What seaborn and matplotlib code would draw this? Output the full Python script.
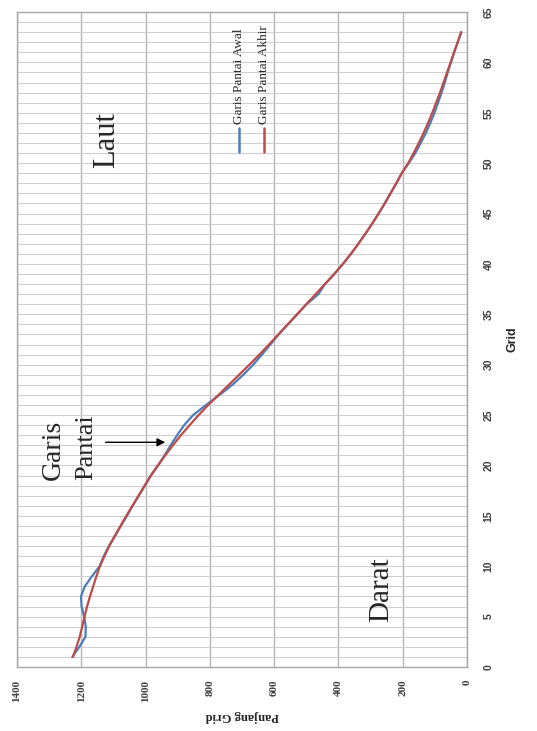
import numpy as np
import pandas as pd
import matplotlib
matplotlib.use("Agg")
import matplotlib.pyplot as plt
import seaborn as sns

# grid index along the coast
grid = list(range(1, 64))

# shoreline position (Panjang Grid) at each grid index
awal = [1228, 1206, 1187, 1186, 1191, 1199, 1201, 1189, 1167, 1143,
        1130, 1114, 1095, 1077, 1058, 1040, 1021, 1002, 983, 961,
        941, 922, 902, 880, 852, 812, 770, 730, 696, 665,
        638, 612, 586, 557, 528, 499, 462, 442, 413, 386,
        361, 338, 316, 295, 275, 256, 238, 220, 203, 181,
        161, 144, 128, 114, 101, 90, 79, 69, 60, 50,
        40, 29, 18]
akhir = [1226, 1215, 1205, 1197, 1190, 1182, 1173, 1163, 1153, 1142,
         1128, 1113, 1096, 1078, 1060, 1041, 1022, 1003, 984, 962,
         939, 915, 890, 863, 835, 805, 773, 741, 709, 677,
         646, 616, 587, 558, 529, 500, 471, 442, 413, 386,
         361, 338, 316, 295, 275, 256, 238, 220, 203, 183,
         166, 150, 135, 121, 108, 96, 84, 73, 62, 51,
         40, 29, 18]

series_names = ["Garis Pantai Awal", "Garis Pantai Akhir"]
colors = ["#4a7ebb", "#be4b48"]

x_ticks = list(range(0, 1401, 200))
y_ticks = list(range(0, 66, 5))

df = pd.concat([
    pd.DataFrame({"grid": grid, "panjang": awal, "seri": series_names[0]}),
    pd.DataFrame({"grid": grid, "panjang": akhir, "seri": series_names[1]}),
])

sns.set_style("white")
plt.rcParams["font.family"] = ["Liberation Serif", "DejaVu Serif"]

fig = plt.figure(figsize=(5.37, 7.31), dpi=100)
ax = fig.add_axes([17 / 537, 64 / 731, 450 / 537, 655 / 731])

# chart is drawn rotated: Panjang Grid runs right-to-left, Grid runs upward
sns.lineplot(data=df, x="panjang", y="grid", hue="seri", palette=colors,
             sort=False, estimator=None, linewidth=1.6, legend=False, ax=ax)
for ln in ax.get_lines():
    ln.set_solid_joinstyle("round")

ax.set_xlim(1400, 0)
ax.set_ylim(0, 65)
ax.set_xticks(x_ticks)
ax.set_yticks(y_ticks)
ax.set_yticks(range(0, 66), minor=True)
ax.grid(axis="x", color="#b5b5b5", linewidth=1.0)
ax.grid(axis="y", which="both", color="#cfcfcf", linewidth=0.8)
ax.set_axisbelow(True)
for s in ax.spines.values():
    s.set_color("#a8a8a8")
    s.set_linewidth(1.0)

ax.yaxis.tick_right()
ax.yaxis.set_label_position("right")
ax.tick_params(axis="both", which="both", length=0)
ax.tick_params(axis="x", pad=9)
ax.tick_params(axis="y", pad=12)
for lab in ax.get_xticklabels():
    lab.set_rotation(90)
    lab.set_fontsize(8)
    lab.set_fontweight("bold")
    lab.set_color("#404040")
for lab in ax.get_yticklabels():
    lab.set_rotation(90)
    lab.set_va("center")
    lab.set_fontsize(7.5)
    lab.set_fontweight("bold")
    lab.set_family(["Liberation Sans Narrow", "Liberation Sans"])
    lab.set_color("#404040")

ax.set_xlabel("Panjang Grid", rotation=180, fontsize=9, fontweight="bold",
              labelpad=6)
ax.set_ylabel("Grid", rotation=90, fontsize=9, fontweight="bold",
              family=["Liberation Sans Narrow", "Liberation Sans"], labelpad=9)

# legend, rotated like the rest of the chart
for xa, name, c in zip([0.493, 0.549], series_names, colors):
    ax.plot([xa, xa], [0.786, 0.823], color=c, linewidth=1.8,
            transform=ax.transAxes)
    ax.text(xa, 0.829, name, rotation=90, ha="center", va="bottom",
            fontsize=9.5, transform=ax.transAxes)

# labels on the chart
ax.text(0.2, 0.805, "Laut", rotation=90, ha="center", va="center",
        fontsize=22, transform=ax.transAxes)
ax.text(0.809, 0.118, "Darat", rotation=90, ha="center", va="center",
        fontsize=21, transform=ax.transAxes)
ax.text(0.08, 0.285, "Garis", rotation=90, ha="center", va="bottom",
        fontsize=20, transform=ax.transAxes)
ax.text(0.153, 0.285, "Pantai", rotation=90, ha="center", va="bottom",
        fontsize=19, transform=ax.transAxes)
ax.annotate("", xy=(930, 22.3), xytext=(1133, 22.3),
            arrowprops=dict(arrowstyle="-|>", color="black", lw=1.0,
                            mutation_scale=12))

fig.savefig("out.png", dpi=100)
